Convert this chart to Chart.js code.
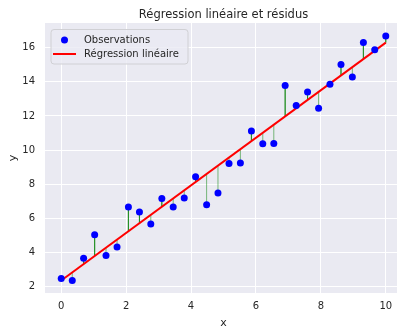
<!DOCTYPE html>
<html lang="fr">
  <head>
    <meta charset="UTF-8" />
    <title>Régression linéaire et résidus</title>
    <script src="https://cdn.jsdelivr.net/npm/chart.js@4.4.0/dist/chart.umd.min.js"></script>
    <style>
      html, body { margin: 0; padding: 0; background: #fff; overflow: hidden; }
    </style>
  </head>
  <body>
    <canvas id="myChart" width="406" height="326"></canvas>

    <script>
      // observations
      const xValues = [0, 0.34, 0.69, 1.03, 1.38, 1.72, 2.07, 2.41, 2.76, 3.10,
        3.45, 3.79, 4.14, 4.48, 4.83, 5.17, 5.52, 5.86, 6.21, 6.55,
        6.90, 7.24, 7.59, 7.93, 8.28, 8.62, 8.97, 9.31, 9.66, 10];
      const yValues = [2.47, 2.35, 3.66, 5.04, 3.82, 4.31, 6.66, 6.37, 5.66, 7.16,
        6.66, 7.19, 8.43, 6.80, 7.49, 9.21, 9.24, 11.12, 10.37, 10.39,
        13.78, 12.61, 13.41, 12.45, 13.86, 15.02, 14.28, 16.31, 15.88, 16.69];

      // fitted line
      const fitIntercept = 2.35;
      const fitSlope = 1.395;

      const xTicks = [0, 2, 4, 6, 8, 10];
      const yTicks = [2, 4, 6, 8, 10, 12, 14, 16];

      const titleText = 'Régression linéaire et résidus';
      const bg = '#EAEAF2';
      const textColor = '#262626';
      const font = 'DejaVu Sans';

      const fit = x => fitIntercept + fitSlope * x;

      const observations = xValues.map((x, i) => ({ x: x, y: yValues[i] }));
      const fitLine = [xValues[0], xValues[xValues.length - 1]].map(x => ({ x: x, y: fit(x) }));
      const residuals = [];
      xValues.forEach((x, i) => {
        residuals.push({ x: x, y: yValues[i] });
        residuals.push({ x: x, y: fit(x) });
        residuals.push({ x: x, y: null });
      });

      const areaBg = {
        id: 'areaBg',
        beforeDraw(chart) {
          const { ctx, chartArea: a } = chart;
          ctx.save();
          ctx.fillStyle = '#fff';
          ctx.fillRect(0, 0, chart.width, chart.height);
          ctx.fillStyle = bg;
          ctx.fillRect(a.left, a.top, a.right - a.left, a.bottom - a.top);
          ctx.restore();
        }
      };

      // title centred over the axes, legend inside upper left
      const decorations = {
        id: 'decorations',
        afterDraw(chart) {
          const ctx = chart.ctx;
          const a = chart.chartArea;
          ctx.save();
          ctx.fillStyle = textColor;
          ctx.font = '11.5px "' + font + '"';
          ctx.textAlign = 'center';
          ctx.textBaseline = 'alphabetic';
          ctx.fillText(titleText, (a.left + a.right) / 2, 17.7);

          const x0 = 51, y0 = 29.5, w = 137, h = 34.5;
          ctx.beginPath();
          ctx.roundRect(x0, y0, w, h, 3);
          ctx.fillStyle = 'rgba(234,234,242,0.8)';
          ctx.fill();
          ctx.strokeStyle = '#d0d0d4';
          ctx.lineWidth = 1;
          ctx.stroke();

          ctx.fillStyle = 'blue';
          ctx.beginPath();
          ctx.arc(64.5, 40, 3.5, 0, Math.PI * 2);
          ctx.fill();

          ctx.strokeStyle = 'red';
          ctx.lineWidth = 2;
          ctx.beginPath();
          ctx.moveTo(53, 54);
          ctx.lineTo(76, 54);
          ctx.stroke();

          ctx.fillStyle = textColor;
          ctx.font = '10px "' + font + '"';
          ctx.textAlign = 'left';
          ctx.textBaseline = 'middle';
          ctx.fillText(chart.data.datasets[0].label, 84, 40);
          ctx.fillText(chart.data.datasets[1].label, 84, 54);
          ctx.restore();
        }
      };

      const ctx = document.getElementById('myChart').getContext('2d');
      const myChart = new Chart(ctx, {
        type: 'line',
        data: {
          datasets: [
            {
              label: 'Observations',
              data: observations,
              showLine: false,
              pointRadius: 3.5,
              pointBorderWidth: 0,
              pointBackgroundColor: 'blue',
              order: 0
            },
            {
              label: 'Régression linéaire',
              data: fitLine,
              borderColor: 'red',
              borderWidth: 2,
              pointRadius: 0,
              order: 1
            },
            {
              label: 'Résidus',
              data: residuals,
              borderColor: 'rgba(0,128,0,0.5)',
              borderWidth: 1,
              pointRadius: 0,
              spanGaps: false,
              order: 2
            }
          ]
        },
        options: {
          responsive: false,
          devicePixelRatio: 1,
          animation: false,
          layout: { padding: { top: 23, left: 0, right: 0, bottom: 0 } },
          plugins: {
            legend: { display: false },
            tooltip: { enabled: false },
            title: { display: false }
          },
          scales: {
            x: {
              type: 'linear',
              min: -0.5,
              max: 10.5,
              afterBuildTicks: s => { s.ticks = xTicks.map(v => ({ value: v })); },
              afterFit: s => { s.height = 33; },
              grid: { color: '#fff', lineWidth: 1, drawTicks: false },
              border: { display: false },
              ticks: { color: textColor, font: { family: font, size: 10 }, padding: 7 },
              title: {
                display: true, text: 'x', color: textColor,
                font: { family: font, size: 11, lineHeight: 0.6 }, padding: { top: 0, bottom: 0 }
              }
            },
            y: {
              type: 'linear',
              min: 1.62,
              max: 17.45,
              afterBuildTicks: s => { s.ticks = yTicks.map(v => ({ value: v })); },
              afterFit: s => { s.width = 45; },
              grid: { color: '#fff', lineWidth: 1, drawTicks: false },
              border: { display: false },
              ticks: { color: textColor, font: { family: font, size: 10 }, padding: 10 },
              title: {
                display: true, text: 'y', color: textColor,
                font: { family: font, size: 11 }, padding: { top: 7, bottom: 0 }
              }
            }
          }
        },
        plugins: [areaBg, decorations]
      });
    </script>
  </body>
</html>
